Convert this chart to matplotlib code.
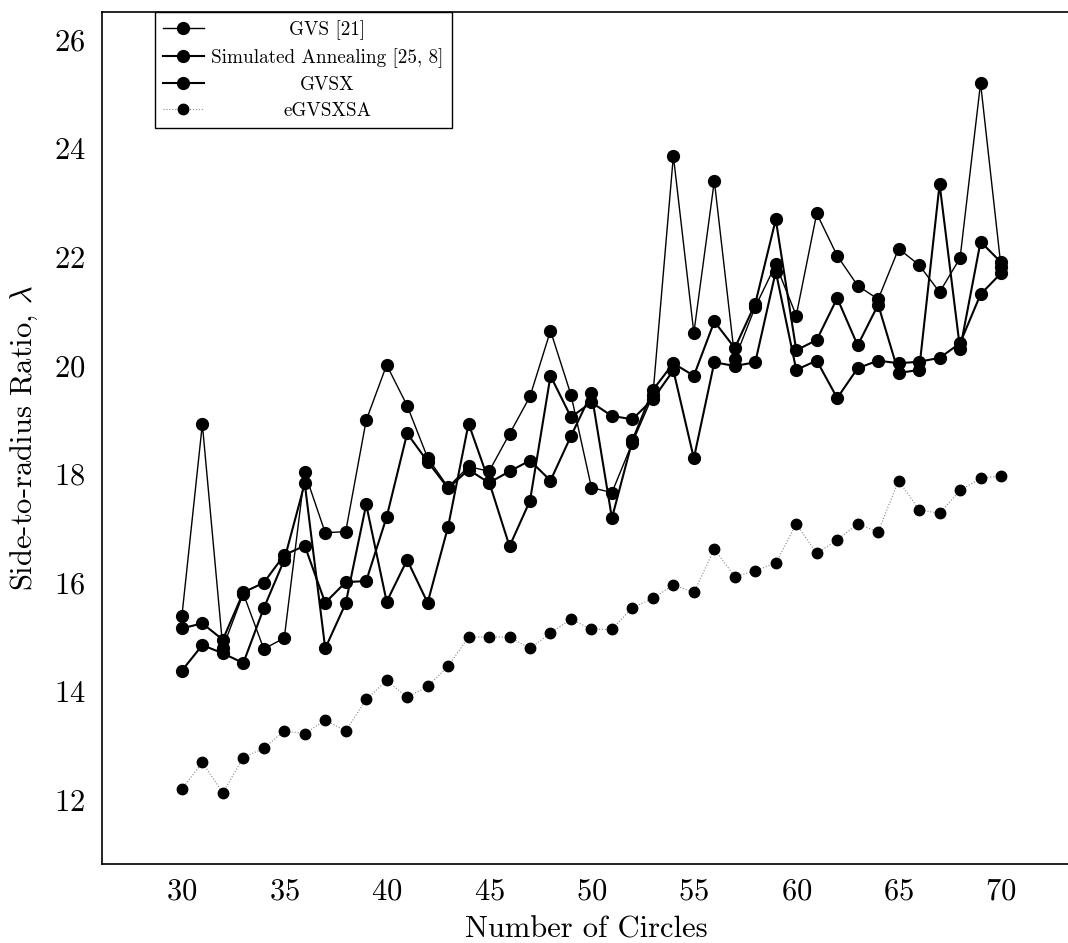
import matplotlib
matplotlib.use("Agg")
import matplotlib.pyplot as plt
import numpy as np

plt.rcParams['font.family'] = 'serif'
plt.rcParams['font.serif'] = ['cmr10']
plt.rcParams['mathtext.fontset'] = 'cm'
plt.rcParams['axes.formatter.use_mathtext'] = True

n_circles = np.arange(30, 71)

gvs = [15.38, 18.92, 14.80, 15.80, 14.78, 14.98, 18.03, 16.92, 16.94, 18.99,
       20.01, 19.26, 18.30, 17.76, 18.14, 18.05, 18.74, 19.43, 20.64, 19.46,
       17.75, 17.66, 18.58, 19.45, 23.86, 20.60, 23.40, 20.12, 21.08, 21.86,
       20.92, 22.80, 22.02, 21.47, 21.22, 22.15, 21.85, 21.35, 21.98, 25.20,
       21.81]
sa = [15.16, 15.25, 14.95, 15.82, 16.00, 16.51, 16.68, 15.63, 16.01, 16.03,
      17.21, 18.75, 18.23, 17.74, 18.08, 17.84, 18.05, 18.25, 17.88, 18.70,
      19.49, 17.19, 18.62, 19.55, 20.04, 19.81, 20.81, 20.32, 21.14, 22.69,
      20.28, 20.47, 21.24, 20.37, 21.12, 19.86, 19.92, 23.34, 20.30, 22.28,
      21.90]
gvsx = [14.38, 14.85, 14.70, 14.52, 15.53, 16.42, 17.83, 14.79, 15.62, 17.44,
        15.65, 16.42, 15.63, 17.03, 18.93, 17.86, 16.67, 17.51, 19.81, 19.05,
        19.32, 19.07, 19.01, 19.38, 19.91, 18.29, 20.06, 19.99, 20.06, 21.73,
        19.92, 20.09, 19.40, 19.95, 20.09, 20.04, 20.07, 20.14, 20.41, 21.31,
        21.70]
egvsxsa = [12.20, 12.69, 12.13, 12.78, 12.95, 13.27, 13.22, 13.47, 13.27, 13.85,
           14.20, 13.89, 14.09, 14.46, 15.00, 15.00, 15.00, 14.79, 15.07, 15.33,
           15.14, 15.14, 15.54, 15.71, 15.96, 15.82, 16.62, 16.11, 16.22, 16.36,
           17.08, 16.54, 16.79, 17.08, 16.94, 17.88, 17.34, 17.28, 17.70, 17.92,
           17.97]

fig = plt.figure(figsize=(10.68, 9.43), dpi=100)
ax = fig.add_axes([0.0955, 0.0838, 0.907, 0.9035])

ax.plot(n_circles, gvs, '-o', color='black', lw=1.0, ms=8.5, label='GVS [21]')
ax.plot(n_circles, sa, '-o', color='black', lw=1.5, ms=8.5,
        label='Simulated Annealing [25, 8]')
ax.plot(n_circles, gvsx, '-o', color='black', lw=1.5, ms=8.5, label='GVSX')
ax.plot(n_circles, egvsxsa, ':o', color='#888888', lw=0.8, ms=7.5,
        mfc='black', mec='black', label='eGVSXSA')

ax.set_xlim(26.1, 73.4)
ax.set_ylim(10.82, 26.51)
ax.set_xticks(range(30, 71, 5))
ax.set_yticks(range(12, 27, 2))
ax.tick_params(length=0, labelsize=22)
ax.tick_params(axis='x', pad=10)
ax.tick_params(axis='y', pad=12)
ax.set_xlabel('Number of Circles', fontsize=22, labelpad=8)
ax.set_ylabel(r'Side-to-radius Ratio, $\lambda$', fontsize=22, labelpad=10)
ax.spines['right'].set_visible(False)
for s in ['left', 'bottom', 'top']:
    ax.spines[s].set_linewidth(1.2)

leg = ax.legend(loc='upper left', bbox_to_anchor=(0.055, 1.0), fontsize=13.8,
                fancybox=False, edgecolor='black', framealpha=1,
                borderaxespad=0, handlelength=2.1, handletextpad=0.4,
                labelspacing=0.42, borderpad=0.42)
leg.get_frame().set_linewidth(1.0)

# centre the legend labels like the original
fig.canvas.draw()
r = fig.canvas.get_renderer()
texts = leg.get_texts()
ws = [t.get_window_extent(r).width for t in texts]
mw = max(ws)
for t, w in zip(texts, ws):
    t.set_x((mw - w) / 2)

fig.savefig('out.png', dpi=100)
